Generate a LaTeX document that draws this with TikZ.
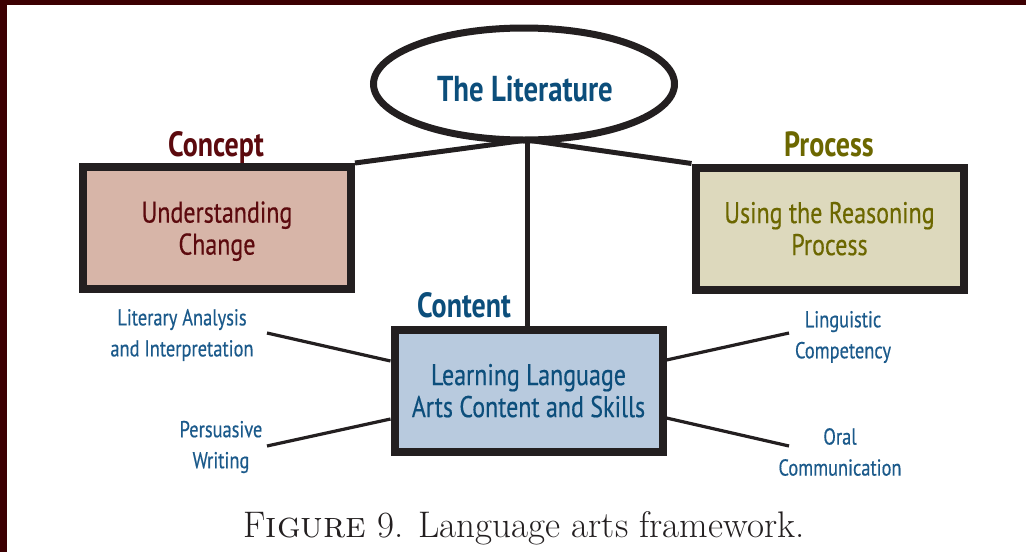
\documentclass[tikz,border=0pt]{standalone}
\usepackage{fontspec}
\newfontfamily\cf[FakeStretch=0.8,FakeBold=0.4]{PT Sans}
\newfontfamily\cfb[FakeStretch=0.8]{PT Sans Bold}
\usetikzlibrary{shapes.geometric,backgrounds}
\definecolor{borderred}{HTML}{3C0002}
\definecolor{boxline}{HTML}{231F20}
\definecolor{conceptfill}{HTML}{D7B5A8}
\definecolor{conceptred}{HTML}{5C0A0E}
\definecolor{processfill}{HTML}{DDD9BD}
\definecolor{olive}{HTML}{6C6700}
\definecolor{contentfill}{HTML}{B8CADE}
\definecolor{litblue}{HTML}{0C4E7B}
\definecolor{sideblue}{HTML}{1B5A8B}
\begin{document}
\begin{tikzpicture}[x=1pt,y=-1pt,
  framebox/.style={draw=boxline, line width=8pt, minimum width=268pt, minimum height=122pt,
    inner sep=0pt, align=center, text depth=0pt, font=\cf\fontsize{30}{32}\selectfont},
  hdr/.style={inner sep=0pt, anchor=base, font=\cfb\fontsize{35}{40}\selectfont},
  side/.style={inner sep=0pt, align=center, text=sideblue, font=\cf\fontsize{23}{31}\selectfont},
  bigline/.style={draw=boxline, line width=5pt},
  smallline/.style={draw=boxline, line width=3.2pt}]
\useasboundingbox (0,0) rectangle (1026,552);
\begin{scope}[on background layer]
  \fill[white] (0,0) rectangle (1026,552);
  \fill[borderred] (0,0) rectangle (1026,5);
  \fill[borderred] (0,0) rectangle (7,552);
\end{scope}

% ellipse
\node[ellipse, draw=boxline, fill=white, line width=7pt, minimum width=301pt, minimum height=112pt, inner sep=0pt] (lit) at (524,84) {};
\node[hdr, text=litblue, font=\cfb\fontsize{36}{40}\selectfont] (littext) at (525,101) {The Literature};

% boxes
\node[framebox, fill=conceptfill, text=conceptred] (concept) at (217,228) {Understanding\\Change};
\node[framebox, fill=processfill, text=olive] (process) at (829.5,228.5) {Using the Reasoning\\Process};
\node[framebox, fill=contentfill, text=litblue] (content) at (528.5,390.5) {Learning Language\\Arts Content and Skills};

% headers
\node[hdr, text=conceptred] (concepthdr) at (216,156) {Concept};
\node[hdr, text=olive] (processhdr) at (829,156) {Process};
\node[hdr, text=litblue] (contenthdr) at (464,317) {Content};

% side labels
\node[side] (lit1) at (182,335) {Literary Analysis\\and Interpretation};
\node[side] (pers) at (221,447) {Persuasive\\Writing};
\node[side] (ling) at (843,337) {Linguistic\\Competency};
\node[side] (oral) at (840,452) {Oral\\Communication};

\coordinate (hub) at (527,140);
\coordinate (la) at (267,333);
\coordinate (lb) at (267,446);
\coordinate (ra) at (789,333);
\coordinate (rb) at (789,446);

\begin{scope}[on background layer]
  \draw[bigline] (hub) -- (concept.north east);
  \draw[bigline] (hub) -- (process.north west);
  \draw[bigline] (hub) -- (hub |- content.north);
  \draw[smallline] (la) -- ([yshift=29.5pt]content.west);
  \draw[smallline] (lb) -- ([yshift=-28.5pt]content.west);
  \draw[smallline] (ra) -- ([yshift=30.5pt]content.east);
  \draw[smallline] (rb) -- ([yshift=-27.5pt]content.east);
\end{scope}

% caption
\node[inner sep=0pt, anchor=base, text=boxline, font=\fontsize{37}{40}\selectfont] (caption) at (524,537) {F\textsc{igure} 9. Language arts framework.};
\end{tikzpicture}
\end{document}
